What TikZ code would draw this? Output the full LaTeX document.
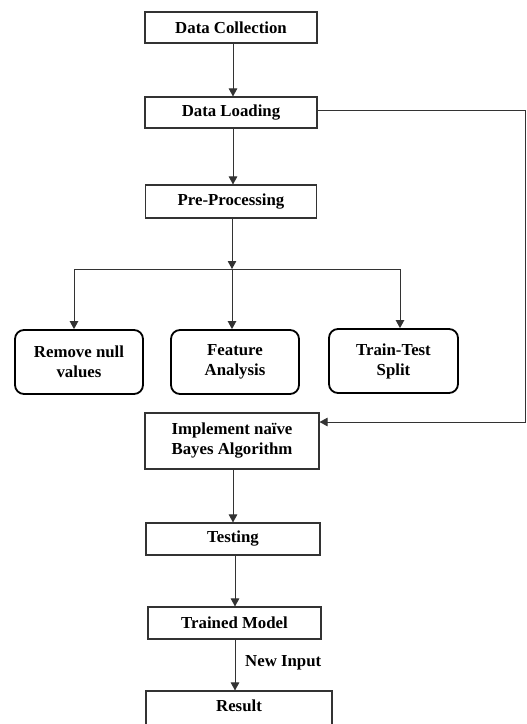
\documentclass[tikz,border=0pt]{standalone}
\usepackage{fontspec}
\setmainfont{Liberation Serif}
\usetikzlibrary{arrows.meta}
\begin{document}
\begin{tikzpicture}[x=1pt,y=-1pt,
  txt/.style={font=\fontsize{16.8}{20}\selectfont\bfseries,align=center,inner sep=0pt},
  box/.style={txt,draw=black!80,line width=1.1pt,rectangle},
  rbox/.style={box,draw=black,rounded corners=9pt,line width=1.8pt},
  conn/.style={draw=black!80,line width=0.9pt,-{Triangle[length=8pt,width=8.5pt]}},
  plain/.style={draw=black!80,line width=0.9pt}]
\useasboundingbox (0,0) rectangle (527,724);
\node[box,minimum width=172pt,minimum height=31pt] (dc) at (231,27.5) {Data Collection};
\node[box,minimum width=172pt,minimum height=31pt] (dl) at (231,112.5) {Data Loading};
\node[box,minimum width=171pt,minimum height=33pt] (pp) at (231,201.5) {Pre-Processing};
\node[rbox,minimum width=128pt,minimum height=64pt] (rn) at (79,362) {Remove null\\values};
\node[rbox,minimum width=128pt,minimum height=64pt] (fa) at (235,362) {Feature\\Analysis};
\node[rbox,minimum width=129pt,minimum height=64pt] (tt) at (393.5,361) {Train-Test\\Split};
\node[box,minimum width=174pt,minimum height=56pt] (nb) at (232,441) {Implement naïve\\Bayes Algorithm};
\node[box,minimum width=174pt,minimum height=32pt] (te) at (233,539) {Testing};
\node[box,minimum width=173pt,minimum height=32pt] (tm) at (234.5,623) {Trained Model};
\node[box,minimum width=186pt,minimum height=40pt] (re) at (239,711) {};
\node[txt] (ret) at (239,706) {Result};
\coordinate (j) at (232,269);
\coordinate (jl) at (74,269);
\coordinate (jr) at (400,269);
\coordinate (c1) at (525,110);
\coordinate (c2) at (525,422);
\draw[conn] (dc.south -| 233,0) -- (dl.north -| 233,0);
\draw[conn] (dl.south -| 233,0) -- (pp.north -| 233,0);
\draw[conn] (pp.south -| j) -- (j);
\draw[plain] (jl) -- (jr);
\draw[conn] (jl) -- (rn.north -| jl);
\draw[conn] (j) -- (fa.north -| j);
\draw[conn] (jr) -- (tt.north -| jr);
\draw[conn] (dl.east |- c1) -- (c1) -- (c2) -- (nb.east |- c2);
\draw[conn] (nb.south -| 233,0) -- (te.north -| 233,0);
\draw[conn] (te.south -| 235,0) -- (tm.north -| 235,0);
\draw[conn] (tm.south -| 235,0) -- (re.north -| 235,0);
\node[txt,anchor=west] (ni) at (245,663) {New Input};
\end{tikzpicture}
\end{document}
